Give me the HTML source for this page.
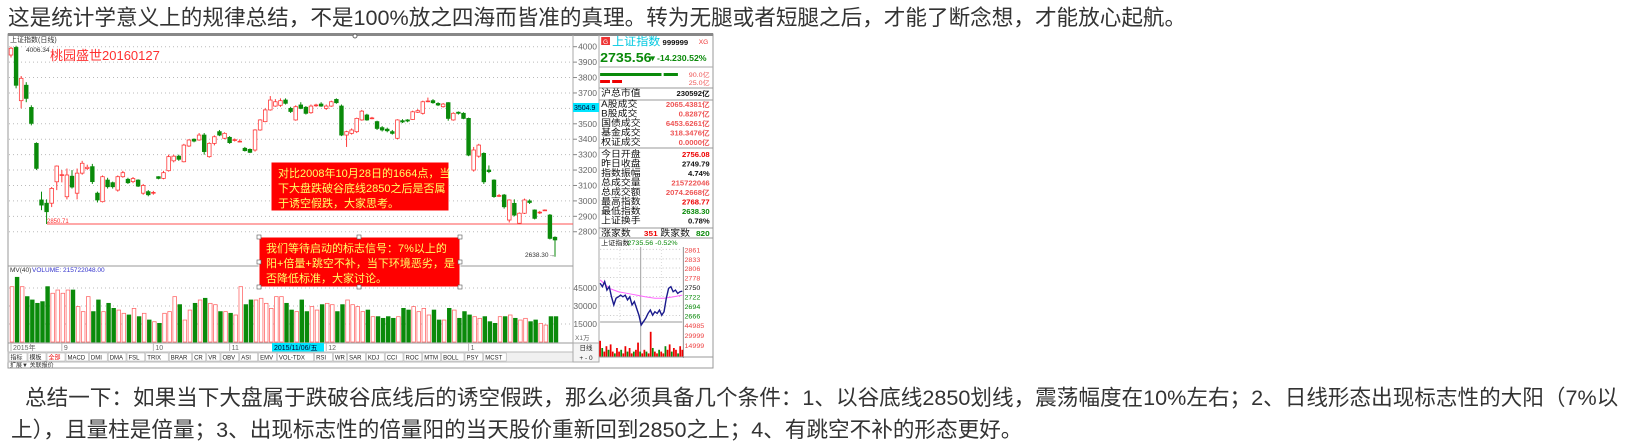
<!DOCTYPE html>
<html><head><meta charset="utf-8">
<style>
body{margin:0;background:#fff;width:1637px;height:442px;overflow:hidden;position:relative;font-family:"Liberation Sans","Noto Sans CJK SC",sans-serif;}
.t{position:absolute;white-space:nowrap;font-size:21.6px;color:#333;line-height:24px;}
</style></head><body>
<div class="t" style="left:8px;top:6px;">这是统计学意义上的规律总结，不是100%放之四海而皆准的真理。转为无腿或者短腿之后，才能了断念想，才能放心起航。</div>
<div class="t" style="left:25px;top:386px;">总结一下：如果当下大盘属于跌破谷底线后的诱空假跌，那么必须具备几个条件：1、以谷底线2850划线，震荡幅度在10%左右；2、日线形态出现标志性的大阳（7%以</div>
<div class="t" style="left:11px;top:418px;">上），且量柱是倍量；3、出现标志性的倍量阳的当天股价重新回到2850之上；4、有跳空不补的形态更好。</div>
<svg id="c" width="1637" height="442" style="position:absolute;left:0;top:0" xmlns="http://www.w3.org/2000/svg" font-family="Liberation Sans, Noto Sans CJK SC, sans-serif"></svg>
<script>
// Daily candles (open, close, high, low)
const opens=[3946,3995,3650,3750,3606,3373,3006,2985,2985,3124,3165,3027,3160,3050,3180,3210,3222,3050,2995,3135,3118,3070,3157,3140,3125,3135,3050,3060,3050,3157,3146,3196,3260,3290,3254,3356,3400,3395,3427,3287,3373,3449,3406,3412,3395,3384,3341,3334,3330,3460,3514,3590,3615,3620,3654,3600,3525,3622,3607,3572,3618,3628,3600,3615,3658,3615,3427,3438,3449,3525,3557,3535,3514,3475,3465,3449,3406,3520,3525,3528,3575,3568,3645,3650,3632,3611,3637,3525,3575,3568,3535,3200,3290,3308,3200,3135,3030,3038,2876,2984,2855,2920,3000,2941,2923,2939,2908,2764];
const closes=[3990,3750,3795,3665,3503,3211,2973,2930,3081,3226,3170,3168,3090,3180,3244,3218,3125,3006,3157,3092,3092,3157,3183,3118,3145,3096,3100,3040,3055,3146,3183,3287,3290,3270,3362,3395,3388,3427,3320,3373,3416,3427,3438,3378,3397,3387,3326,3315,3460,3525,3590,3654,3643,3650,3633,3580,3611,3600,3568,3615,3622,3615,3615,3643,3637,3427,3449,3460,3535,3582,3525,3538,3470,3460,3455,3438,3525,3512,3518,3578,3585,3643,3648,3637,3622,3628,3535,3568,3568,3535,3297,3330,3362,3124,3190,3028,3035,2962,3006,2908,2920,3006,2990,2887,2927,2941,2757,2747];
const highs=[4000,4006,3810,3770,3620,3380,3060,3010,3090,3230,3200,3210,3200,3210,3260,3235,3240,3060,3165,3150,3125,3165,3195,3150,3155,3140,3110,3070,3065,3160,3195,3300,3300,3300,3370,3400,3405,3440,3440,3380,3425,3460,3445,3420,3405,3400,3350,3340,3465,3530,3600,3680,3660,3665,3665,3610,3620,3640,3615,3625,3630,3640,3625,3650,3665,3625,3455,3470,3540,3590,3565,3545,3520,3485,3475,3460,3530,3530,3530,3585,3595,3650,3670,3660,3640,3635,3640,3575,3580,3575,3540,3350,3370,3315,3230,3140,3045,3045,3010,3010,2925,3015,3010,2945,2935,2945,2915,2770];
const lows=[3930,3730,3600,3640,3490,3200,2940,2850,2960,3070,3120,3010,3080,3010,3170,3200,3110,2990,2990,3080,3080,3060,3150,3110,3115,3090,3040,3030,3040,3140,3140,3190,3250,3260,3250,3350,3380,3390,3300,3280,3360,3420,3400,3370,3385,3380,3320,3310,3320,3455,3510,3585,3610,3610,3625,3570,3520,3595,3560,3565,3610,3610,3590,3610,3630,3420,3350,3430,3440,3520,3520,3530,3460,3450,3445,3430,3400,3505,3510,3525,3570,3560,3640,3630,3615,3605,3520,3520,3560,3530,3290,3190,3280,3110,3180,3020,3025,2950,2860,2900,2850,2915,2980,2880,2915,2935,2750,2638];
// Daily volume (x1万 units)
const volumes=[46100,53900,46100,37800,35000,32200,33600,46100,40600,43300,40600,43300,43300,29500,25300,37800,25300,35000,25300,32200,28000,26600,23900,22500,28000,21100,23900,18300,16900,15500,23900,25300,37800,31100,18300,26600,32200,35000,36400,32200,31100,25300,25300,23900,22500,46100,31100,35000,35000,36400,32200,28000,37800,37800,32200,26600,25300,35000,25300,29500,26600,31100,32200,31100,25300,31100,35000,31100,29500,25300,26600,21100,21100,19700,21100,19700,21100,28000,26600,29500,25300,28000,22500,26600,18300,18300,28000,26600,19700,25300,22500,21100,19700,21100,16900,15500,21100,21100,22500,19700,18300,19700,16900,18300,15500,14100,21100,21100];
const priceTicks=[4000,3900,3800,3700,3600,3500,3400,3300,3200,3100,3000,2900,2800];
const volTicks=[45000,30000,15000];
const monthLabels=["2015年","9","10","11","12","1"];
const monthIdx=[0,10,28,43,62,90];
// Intraday
const intraPrice=[2761,2751,2766,2741,2751,2721,2697,2717,2721,2726,2721,2726,2712,2721,2697,2707,2687,2667,2638,2648,2658,2672,2682,2667,2677,2672,2682,2667,2677,2717,2746,2751,2736,2741,2731,2736,2738];
const intraAvg=[2771,2746,2736,2731,2726,2721,2717,2717,2721,2726];
const intraVol=[9,5,3,6,4,7,3,2,5,3,4,2,6,3,5,2,3,4,8,3,2,4,3,2,14,5,3,2,4,3,2,6,4,7,3,5,4,2,6,4];
const intraTicks=[2861,2833,2806,2778,2750,2722,2694,2666];
const intraVolTicks=["44985","29999","14999"];

const svg=document.getElementById('c');
const NS='http://www.w3.org/2000/svg';
let cur=svg;
function mk(tag,a,parent){const e=document.createElementNS(NS,tag);for(const k in a)e.setAttribute(k,a[k]);(parent||cur).appendChild(e);return e;}
function tx(x,y,s,size,fill,anchor,name,weight){const e=mk('text',{x:x,y:y,'font-size':size,fill:fill,'text-anchor':anchor||'start','font-weight':weight||'normal'});e.textContent=s;


return e;}
const N=opens.length;
const xS=i=>11+i*(555-11)/(N-1);
const yP=p=>46.7+(4000-p)*0.1542;
const yV=v=>342-v*(18/15000);

// frame
let r=mk('rect',{x:8,y:34,width:705,height:334,fill:'#fff',stroke:'#999','stroke-width':1});


mk('line',{x1:8,y1:34.5,x2:713,y2:34.5,stroke:'#888','stroke-width':3});
mk('circle',{cx:355,cy:36,r:2,fill:'#fff',stroke:'#666'});
mk('line',{x1:573,y1:35,x2:573,y2:362,stroke:'#aaa'});
mk('line',{x1:599,y1:35,x2:599,y2:362,stroke:'#aaa'});
mk('line',{x1:8,y1:266,x2:573,y2:266,stroke:'#999'});
// price grid + ticks
priceTicks.forEach(p=>{const y=yP(p);
mk('line',{x1:9,y1:y,x2:573,y2:y,stroke:'#bbb','stroke-dasharray':'1,3'});
mk('line',{x1:573,y1:y,x2:577,y2:y,stroke:'#888'});
tx(597,y+3,String(p),8.5,'#666','end','price-tick');});
volTicks.forEach(v=>{const y=yV(v);
mk('line',{x1:9,y1:y,x2:573,y2:y,stroke:'#bbb','stroke-dasharray':'1,3'});
tx(597,y+3,String(v),8.5,'#666','end','volume-tick');});
tx(10,42,'上证指数(日线)',7,'#333','start','chart-title');
tx(26,52,'4006.34',6.5,'#333','start','high-label');
tx(50,60,'桃园盛世20160127',13,'#ff3030','start','watermark-title');
// 2850 line
mk('line',{x1:47,y1:yP(2850),x2:573,y2:yP(2850),stroke:'#ff5050','stroke-width':1});
tx(47,yP(2850)-1,'2850.71',6,'#ff3030','start','support-label');
// candles
for(let i=0;i<N;i++){const x=xS(i),up=closes[i]>=opens[i],col=up?'#ff3b3b':'#0a8a0a';
const g=mk('g',{});


const top=Math.min(yP(opens[i]),yP(closes[i])),bot=Math.max(yP(opens[i]),yP(closes[i]));
mk('line',{x1:x,y1:yP(highs[i]),x2:x,y2:top,stroke:col},g);
mk('line',{x1:x,y1:bot,x2:x,y2:yP(lows[i]),stroke:col},g);
mk('rect',{x:x-1.8,y:top,width:3.6,height:Math.max(bot-top,0.8),fill:up?'#fff':col,stroke:col,'stroke-width':0.8},g);}
tx(525,257,'2638.30→',6.5,'#333','start','low-label');
// volume
tx(10,272,'MV(40)',6.5,'#333','start','volume-ma-label');
tx(32,272,'VOLUME: 215722048.00',6.5,'#3333cc','start','volume-label');
for(let i=0;i<N;i++){const x=xS(i)+1,up=closes[i]>=opens[i],col=up?'#ff6b6b':'#0a8a0a';
const b=mk('rect',{x:x-1.8,y:yV(volumes[i]),width:3.6,height:342-yV(volumes[i]),fill:up?'#fff':col,stroke:col,'stroke-width':0.8});

}
// date axis
mk('line',{x1:8,y1:343,x2:573,y2:343,stroke:'#999'});
monthLabels.forEach((m,k)=>{const x=xS(monthIdx[k])+2;mk('line',{x1:x-2,y1:343,x2:x-2,y2:351,stroke:'#bbb'});tx(x,350,m,7,'#666','start','month-label');});
mk('rect',{x:272,y:343,width:52,height:9,fill:'#00e5ff'});
tx(274,350,'2015/11/06/五',7,'#003','start','cursor-date');
// tabs
const tabs=["指标","模板","全部","MACD","DMI","DMA","FSL","TRIX","BRAR","CR","VR","OBV","ASI","EMV","VOL-TDX","RSI","WR","SAR","KDJ","CCI","ROC","MTM","BOLL","PSY","MCST"];
let tx0=9;
mk('rect',{x:8,y:352,width:565,height:10,fill:'#f0f0f0',stroke:'#bbb'});
tabs.forEach((t,k)=>{const w=t.length>3?t.length*4.6+4:(/[A-Z]/.test(t)?t.length*4.6+4:18);
const rr=mk('rect',{x:tx0,y:353,width:w,height:8,fill:'#fff',stroke:'#aaa','stroke-width':0.5});


tx(tx0+1.5,359.5,t,6,k==2?'#e00':'#222','start','indicator-tab-label');tx0+=w+1;});
tx(10,367,'扩展▼ 关联报价',6,'#333','start','extend-tab');
mk('rect',{x:573,y:343,width:26,height:19,fill:'#f5f5f5',stroke:'#aaa'});
tx(586,350,'日线',6.5,'#222','middle','period-label');
tx(586,360,'+ - 0',6.5,'#222','middle','zoom-buttons');
tx(575,340,'X1万',6.5,'#666','start','volume-unit');
mk('rect',{x:573,y:103,width:26,height:9,fill:'#00e5ff'});
tx(574,110,'3504.9',7,'#003','start','cursor-price');
// annotation boxes
function box(x,y,w,h,lines,name){const g=mk('g',{});


mk('rect',{x:x,y:y,width:w,height:h,fill:'#ff0000',stroke:'#fff','stroke-width':1},g);
lines.forEach((l,k)=>{const t=mk('text',{x:x+7,y:y+15+k*15,'font-size':11,fill:'#ffff66'},g);t.textContent=l;

});return g;}
box(271,162,178,49,['对比2008年10月28日的1664点，当','下大盘跌破谷底线2850之后是否属','于诱空假跌，大家思考。'],'annotation-box-1');
box(259,237,201,50,['我们等待启动的标志信号：7%以上的','阳+倍量+跳空不补，当下环境恶劣，是','否降低标准，大家讨论。'],'annotation-box-2');
[[259,237],[359,237],[460,237],[259,262],[460,262],[259,287],[359,287],[460,287]].forEach(p=>mk('rect',{x:p[0]-2,y:p[1]-2,width:4,height:4,fill:'#fff',stroke:'#555','stroke-width':0.6}));
// info panel (stretched group)
const ip=mk('g',{transform:'translate(599 0) scale(1.096 1) translate(-599 0)'});


cur=ip;
const P=599;
mk('rect',{x:P+2,y:37,width:8,height:8,fill:'#e33'});
tx(P+6,44,'G',6,'#fff','middle','g-icon');
tx(611,45,'上证指数',11,'#00c8e0','start','index-name');
tx(657,45,'999999',7,'#111','start','index-code','bold');
tx(690,44,'XG',6,'#e33','start','xg-label');
tx(600,62,'2735.56',13,'#0a8a0a','start','last-price','bold');
tx(644,61,'▼-14.230.52%',8,'#0a8a0a','start','change-label','bold');
mk('line',{x1:P,y1:67,x2:703,y2:67,stroke:'#aaa'});
mk('rect',{x:600,y:73,width:56,height:3,fill:'#0a8a0a'});
mk('rect',{x:658,y:73,width:13,height:3,fill:'#0a8a0a'});
mk('rect',{x:600,y:80,width:9,height:3,fill:'#e00'});
mk('rect',{x:611,y:80,width:9,height:3,fill:'#e00'});
tx(700,77,'90.0亿',6.5,'#e55','end','bar-label');
tx(700,85,'25.0亿',6.5,'#e55','end','bar-label');
const infoRows=[["沪总市值","230592亿","#111",96],["A股成交","2065.4381亿","#e55",107],["B股成交","0.8287亿","#e55",116.5],["国债成交","6453.6261亿","#e55",126],["基金成交","318.3476亿","#e55",135.5],["权证成交","0.0000亿","#e55",145],["今日开盘","2756.08","#e00",157],["昨日收盘","2749.79","#111",166.5],["指数振幅","4.74%","#111",176],["总成交量","215722046","#e55",185.5],["总成交额","2074.2668亿","#e55",195],["最高指数","2768.77","#e00",204.5],["最低指数","2638.30","#0a8a0a",214],["上证换手","0.78%","#111",223.5]];
[88,100,148,228].forEach(y=>mk('line',{x1:P,y1:y,x2:703,y2:y,stroke:'#999'}));
infoRows.forEach(rw=>{tx(601,rw[3],rw[0],9,'#111','start','info-label');tx(700,rw[3],rw[1],7,rw[2],'end','info-value','bold');});
tx(601,236,'涨家数',9,'#111','start','up-count-label');
tx(640,236,'351',7.5,'#e00','start','up-count','bold');
tx(655,236,'跌家数',9,'#111','start','down-count-label');
tx(700,236,'820',7.5,'#0a8a0a','end','down-count','bold');
mk('line',{x1:P,y1:238,x2:703,y2:238,stroke:'#999'});
tx(601,245,'上证指数',6.5,'#111','start','intraday-title');
tx(625,245,'2735.56 -0.52%',6.5,'#0a8a0a','start','intraday-quote');
// intraday chart
const IX0=600,IX1=675;
const yI=p=>287-(p-2750)*(9.5/28);
mk('line',{x1:676,y1:247,x2:676,y2:358,stroke:'#999'});
intraTicks.forEach(p=>{mk('line',{x1:IX0,y1:yI(p),x2:IX1,y2:yI(p),stroke:'#ccc','stroke-dasharray':'1,2'});
tx(677,yI(p)+3,String(p),6.5,p>2750?'#e44':(p==2750?'#111':'#0a8a0a'),'start','intraday-tick');});
intraVolTicks.forEach((v,k)=>tx(677,328+k*10,v,6.5,'#e44','start','intraday-vol-tick'));
mk('line',{x1:637,y1:247,x2:637,y2:357,stroke:'#aaa'});
mk('line',{x1:618,y1:247,x2:618,y2:322,stroke:'#ddd','stroke-dasharray':'1,2'});
mk('line',{x1:656,y1:247,x2:656,y2:322,stroke:'#ddd','stroke-dasharray':'1,2'});
mk('line',{x1:IX0,y1:322,x2:IX1,y2:322,stroke:'#999'});
const ix=(i,n)=>IX0+i*(IX1-IX0)/(n-1);
let pa=mk('polyline',{points:intraAvg.map((p,i)=>ix(i,intraAvg.length)+','+yI(p)).join(' '),fill:'none',stroke:'#ff66ff','stroke-width':1});


let pl=mk('polyline',{points:intraPrice.map((p,i)=>ix(i,intraPrice.length)+','+yI(p)).join(' '),fill:'none',stroke:'#1a1a8c','stroke-width':1.3});


intraVol.forEach((v,i)=>{const x=ix(i,intraVol.length);
const b=mk('rect',{x:x-0.8,y:357-v*1.8,width:1.6,height:v*1.8,fill:i%3==1?'#0a8a0a':'#e00'});

});
mk('line',{x1:P,y1:357,x2:703,y2:357,stroke:'#999'});
cur=svg;
</script>
</body></html>
